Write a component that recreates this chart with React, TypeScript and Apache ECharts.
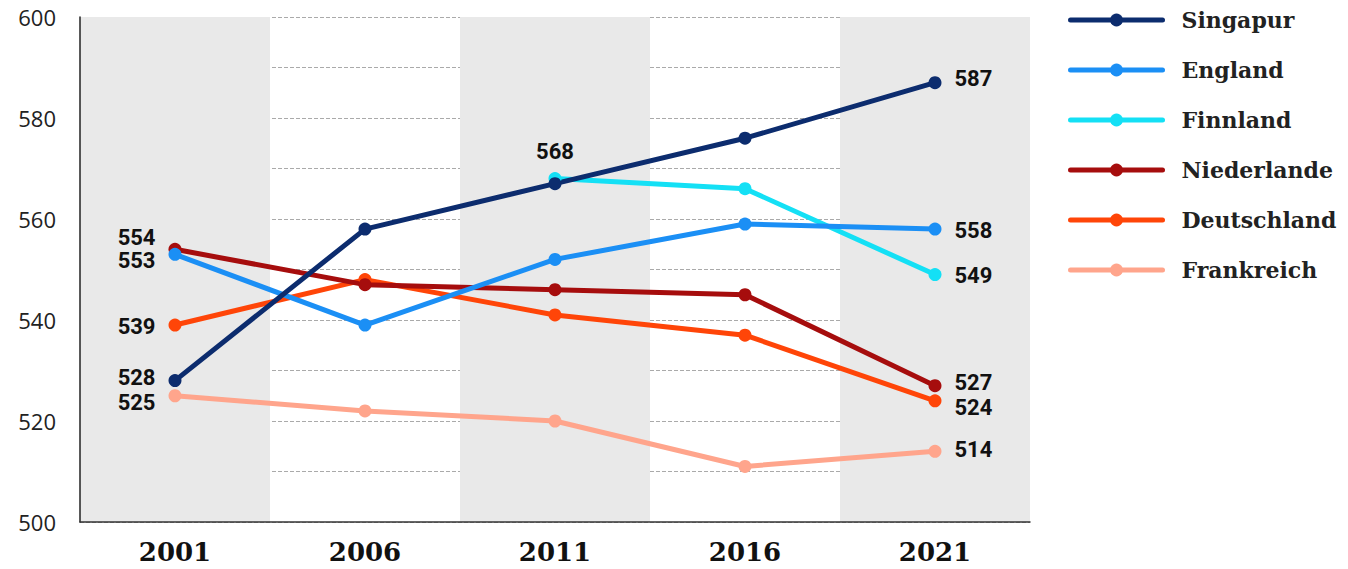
import React, { useEffect, useRef } from "react";
import * as echarts from "echarts";

const years = ["2001", "2006", "2011", "2016", "2021"];
const singapur = [528, 558, 567, 576, 587];
const england = [553, 539, 552, 559, 558];
const finnland: (number | null)[] = [null, null, 568, 566, 549];
const niederlande = [554, 547, 546, 545, 527];
const deutschland = [539, 548, 541, 537, 524];
const frankreich = [525, 522, 520, 511, 514];

const names = ["Singapur", "England", "Finnland", "Niederlande", "Deutschland", "Frankreich"];
const colors: Record<string, string> = {
  Singapur: "#0c2c6e",
  England: "#1b8ff5",
  Finnland: "#14e0f5",
  Niederlande: "#a60d0d",
  Deutschland: "#ff4508",
  Frankreich: "#ffa58c",
};

const labelFont = { fontFamily: "Roboto", fontWeight: "bold" as const, fontSize: 22, color: "#111" };

function mk(name: string, vals: (number | null)[], extra: Record<number, any>) {
  return {
    name,
    type: "line",
    data: vals.map((v, i) => {
      if (v === null) return null;
      const e = extra[i];
      return e ? { value: v, label: { show: true, ...labelFont, ...e } } : v;
    }),
    symbol: "circle",
    symbolSize: 13,
    lineStyle: { width: 5, color: colors[name], cap: "round" },
    itemStyle: { color: colors[name] },
    label: { show: false },
    emphasis: { disabled: true },
  };
}

const L = (dy = 0) => ({ position: "left", distance: 13, offset: [0, dy] });
const R = (dy = 0) => ({ position: "right", distance: 13, offset: [0, dy] });

export default function App() {
  const ref = useRef<HTMLDivElement>(null);
  useEffect(() => {
    const chart = echarts.init(ref.current!, null, { renderer: "svg" });
    const series = [
      mk("Frankreich", frankreich, { 0: L(7), 4: R(-2) }),
      mk("Deutschland", deutschland, { 0: L(1), 4: R(7) }),
      mk("Niederlande", niederlande, { 0: L(-12), 4: R(-3) }),
      mk("Finnland", finnland, { 2: { position: "top", distance: 10 }, 4: R(1) }),
      mk("England", england, { 0: L(6), 4: R(1) }),
      mk("Singapur", singapur, { 0: L(-3), 4: R(-4) }),
    ];
    chart.setOption({
      animation: false,
      grid: { left: 80, right: 318, top: 17, bottom: 47 },
      legend: {
        orient: "vertical",
        left: 1063,
        top: 3,
        data: names,
        itemWidth: 92,
        itemHeight: 16,
        itemGap: 26,
        lineStyle: { width: 5, cap: "round" },
        textStyle: {
          fontFamily: "DejaVu Serif",
          fontWeight: "bold",
          fontSize: 22,
          color: "#222",
          lineHeight: 24,
          padding: [0, 0, 0, 14],
        },
      },
      xAxis: {
        type: "category",
        data: years,
        boundaryGap: true,
        axisLine: { lineStyle: { color: "#333", width: 1.5 } },
        axisTick: { show: false },
        axisLabel: {
          fontFamily: "DejaVu Serif",
          fontWeight: "bold",
          fontSize: 26,
          color: "#111",
          margin: 17,
        },
        splitArea: { show: true, areaStyle: { color: ["#e9e9e9", "rgba(255,255,255,0)"] } },
      },
      yAxis: {
        type: "value",
        min: 500,
        max: 600,
        interval: 10,
        axisLine: { show: true, lineStyle: { color: "#222", width: 1.5 } },
        axisTick: { show: false },
        axisLabel: {
          fontFamily: "Open Sans",
          fontSize: 22,
          color: "#222",
          margin: 24,
          formatter: (v: number) => (v % 20 === 0 ? String(v) : ""),
        },
        splitLine: { show: true, lineStyle: { type: "dashed", color: "#aaa", width: 1 } },
      },
      series,
    });
    return () => chart.dispose();
  }, []);
  return <div ref={ref} style={{ width: 1348, height: 569, position: "absolute", left: 0, top: 0 }} />;
}
